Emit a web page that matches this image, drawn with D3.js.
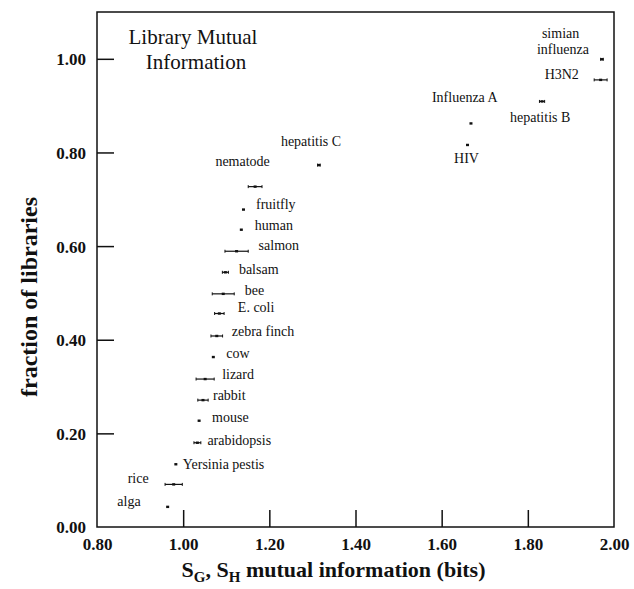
<!DOCTYPE html>
<html>
<head>
<meta charset="utf-8">
<script src="https://cdn.jsdelivr.net/npm/d3@7"></script>
<style>
body { margin: 0; background: #fff; }
svg { display: block; }
</style>
</head>
<body>
<svg id="chart" width="634" height="589"></svg>
<script>
// values
var names = ["alga", "rice", "Yersinia pestis", "arabidopsis", "mouse", "rabbit", "lizard", "cow",
	"zebra finch", "E. coli", "bee", "balsam", "salmon", "human", "fruitfly", "nematode",
	"hepatitis C", "HIV", "Influenza A", "hepatitis B", "H3N2", "simian influenza"];
var mutualInfo = [0.964, 0.978, 0.983, 1.033, 1.037, 1.046, 1.051, 1.070,
	1.078, 1.084, 1.093, 1.098, 1.124, 1.135, 1.140, 1.167,
	1.315, 1.660, 1.668, 1.833, 1.969, 1.972];
var mutualInfoErr = [0, 0.020, 0, 0.008, 0, 0.012, 0.021, 0,
	0.0135, 0.011, 0.0255, 0.007, 0.027, 0, 0, 0.016,
	0.003, 0, 0, 0.006, 0.015, 0.003];
var fraction = [0.043, 0.091, 0.134, 0.180, 0.227, 0.271, 0.316, 0.363,
	0.408, 0.456, 0.498, 0.544, 0.589, 0.635, 0.678, 0.727,
	0.773, 0.816, 0.862, 0.909, 0.955, 0.999];
var xTicks = [0.8, 1.0, 1.2, 1.4, 1.6, 1.8, 2.0];
var yTicks = [0.0, 0.2, 0.4, 0.6, 0.8, 1.0];

// label placement relative to the mark: [dx, dy, anchor]
var labelPlace = [[-27, -1, "end"], [-25, -1, "end"], [7, 4.5, "start"], [10, 2, "start"],
	[13, 1.5, "start"], [10, 0, "start"], [17, 0, "start"], [13, 1, "start"],
	[15, 0, "start"], [18.5, -2, "start"], [21.5, 1.5, "start"], [13.5, 2, "start"],
	[22, -1, "start"], [13.5, 0, "start"], [12.5, -0.5, "start"], [-12.5, -20.5, "middle"],
	[-38, -19, "start"], [-1, 17.7, "middle"], [-39, -21, "start"], [-32, 21, "start"],
	[-56, -1.3, "start"], [-60, -21, "start"]];

var svg = d3.select("#chart");
var margin = {left: 97, right: 20, top: 12, bottom: 62};
var w = 634 - margin.left - margin.right;
var h = 589 - margin.top - margin.bottom;

var x = d3.scaleLinear().domain([0.8, 2.0]).range([0, w]);
var y = d3.scaleLinear().domain([0, 1.1]).range([h, 0]);

var g = svg.append("g").attr("transform", "translate(" + margin.left + "," + margin.top + ")");

var fmt = d3.format(".2f");
var xAxis = g.append("g").attr("transform", "translate(0," + h + ")")
	.call(d3.axisBottom(x).tickValues(xTicks).tickFormat(fmt).tickSizeInner(-17).tickSizeOuter(0).tickPadding(11));
var yAxis = g.append("g")
	.call(d3.axisLeft(y).tickValues(yTicks).tickFormat(fmt).tickSizeInner(-17).tickSizeOuter(0).tickPadding(11));

[xAxis, yAxis].forEach(function(ax) {
	ax.select(".domain").remove();
	ax.selectAll(".tick line").attr("stroke", "#111").attr("stroke-width", 1.5);
	ax.selectAll(".tick text")
		.attr("font-family", "'Liberation Serif', 'Times New Roman', serif")
		.attr("font-weight", "bold")
		.attr("font-size", 17)
		.attr("fill", "#111");
});
// no ticks drawn on the frame edges
xAxis.selectAll(".tick line").filter(function(d) { return d <= 0.8 || d >= 2.0; }).remove();
yAxis.selectAll(".tick line").filter(function(d) { return d <= 0; }).remove();
yAxis.selectAll(".tick text").attr("dy", "0.35em");

g.append("rect")
	.attr("width", w).attr("height", h)
	.attr("fill", "none").attr("stroke", "#111").attr("stroke-width", 1.5);

var pts = names.map(function(n, i) {
	return {name: n, mi: mutualInfo[i], err: mutualInfoErr[i], fr: fraction[i], lab: labelPlace[i]};
});

var marks = g.selectAll(".mark").data(pts).enter().append("g").attr("class", "mark");

marks.filter(function(d) { return d.err > 0; }).each(function(d) {
	var sel = d3.select(this);
	var x0 = x(d.mi - d.err), x1 = x(d.mi + d.err), yy = y(d.fr);
	sel.append("line").attr("x1", x0).attr("x2", x1).attr("y1", yy).attr("y2", yy)
		.attr("stroke", "#111").attr("stroke-width", 1.2);
	[x0, x1].forEach(function(xx) {
		sel.append("line").attr("x1", xx).attr("x2", xx).attr("y1", yy - 1.5).attr("y2", yy + 1.5)
			.attr("stroke", "#111").attr("stroke-width", 1);
	});
});

marks.append("rect")
	.attr("x", function(d) { return x(d.mi) - 1.5; })
	.attr("y", function(d) { return y(d.fr) - 1.2; })
	.attr("width", 3).attr("height", 2.4)
	.attr("fill", "#111");

var labelFont = "'Liberation Serif', 'Times New Roman', serif";
marks.each(function(d) {
	var sel = d3.select(this);
	var lines = d.name === "simian influenza" ? ["simian", "influenza"] : [d.name];
	lines.forEach(function(t, k) {
		sel.append("text")
			.attr("x", x(d.mi) + d.lab[0] - (k === 1 ? 5 : 0))
			.attr("y", y(d.fr) + d.lab[1] + k * 16)
			.attr("text-anchor", d.lab[2])
			.attr("font-family", labelFont)
			.attr("font-size", 14)
			.attr("fill", "#111")
			.text(t);
	});
});

// inset title
var title = g.append("text")
	.attr("font-family", labelFont).attr("font-size", 21).attr("fill", "#111")
	.attr("text-anchor", "middle");
title.append("tspan").attr("x", 96).attr("y", 32).text("Library Mutual");
title.append("tspan").attr("x", 99).attr("y", 57).text("Information");

// axis titles
var xt = svg.append("text")
	.attr("x", margin.left + w / 2 - 22).attr("y", 577)
	.attr("text-anchor", "middle")
	.attr("font-family", labelFont).attr("font-weight", "bold").attr("font-size", 22).attr("fill", "#111");
xt.append("tspan").text("S");
xt.append("tspan").attr("dy", 5).attr("font-size", 15).text("G");
xt.append("tspan").attr("dy", -5).text(", S");
xt.append("tspan").attr("dy", 5).attr("font-size", 15).text("H");
xt.append("tspan").attr("dy", -5).text(" mutual information (bits)");

svg.append("text")
	.attr("transform", "translate(37," + (margin.top + 285) + ") rotate(-90)")
	.attr("text-anchor", "middle")
	.attr("font-family", labelFont).attr("font-weight", "bold").attr("font-size", 24).attr("fill", "#111")
	.text("fraction of libraries");
</script>
</body>
</html>
